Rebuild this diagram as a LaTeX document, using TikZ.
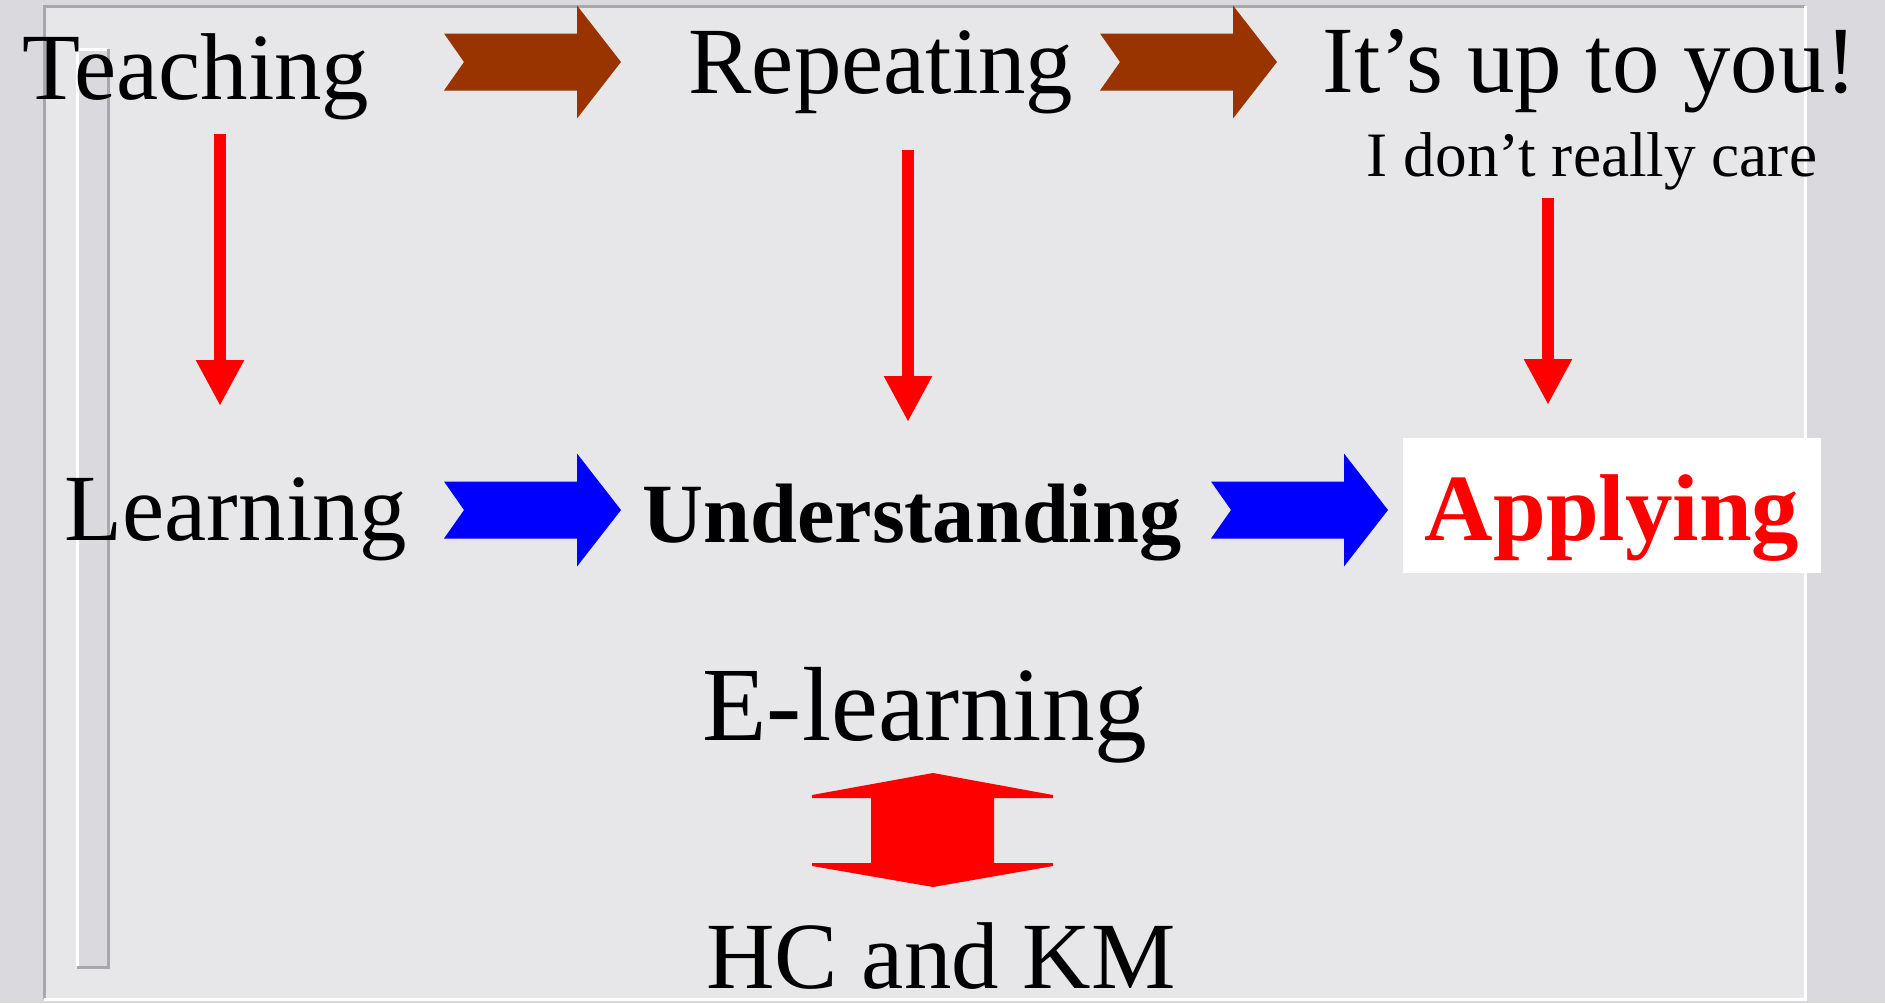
\documentclass[tikz,border=0pt]{standalone}
\usepackage{fontspec}
\setmainfont{Liberation Serif}
\usetikzlibrary{arrows.meta,positioning,calc}
\definecolor{marblegray}{HTML}{DADADE}
\definecolor{panelgray}{HTML}{E7E7E9}
\definecolor{edgegray}{HTML}{A8A8AC}
\definecolor{slidebrown}{HTML}{993300}
\definecolor{slideblue}{HTML}{0000FF}
\definecolor{slidered}{HTML}{FF0000}
\tikzset{
  pics/notcharrow/.style={code={
    \path[pic actions] (0,-28.5) -- (133,-28.5) -- (133,-56.5) -- (177,0)
      -- (133,56.5) -- (133,28.5) -- (0,28.5) -- (20,0) -- cycle;
  }}
}

\begin{document}
\begin{tikzpicture}[x=0.1mm,y=-0.1mm,
    word/.style={anchor=base,inner sep=0pt,font=\fontsize{27}{32}\selectfont},
    downarrow/.style={slidered,line width=1.2mm,-{Triangle[length=4.6mm,width=4.5mm]}}]
    \useasboundingbox (0,0) rectangle (1885,1003);
    \fill[marblegray] (0,0) rectangle (1885,1003);
    \fill[panelgray] (44,6) rectangle (1805,999);
    \draw[edgegray,line width=0.3mm] (44,999) -- (44,6) -- (1805,6);
    \draw[white,line width=0.3mm] (44,999) -- (1805,999) -- (1805,6);
    \fill[marblegray] (77,49) rectangle (108,967);
    \draw[white,line width=0.3mm] (77,967) -- (77,49) -- (108,49);
    \draw[edgegray,line width=0.3mm] (108,49) -- (108,967) -- (77,967);

    \node[word] (teaching) at (196,99) {Teaching};
    \node[word] (repeating) at (881,93) {Repeating};
    \node[word] (uptoyou) at (1590,92) {It’s up to you!};
    \node[word,font=\fontsize{18}{22}\selectfont] (notcare) at (1592,176) {I don’t really care};
    \node[word] (learning) at (236,540) {Learning};
    \node[word,font=\fontsize{24}{29}\selectfont\bfseries] (understanding) at (912,542) {Understanding};
    \node[word,fill=white,text=slidered,font=\fontsize{27}{32}\selectfont\bfseries,
      text height=10.2mm,text depth=3.3mm,minimum width=41.8mm] (applying) at (1612,540) {Applying};
    \node[word,font=\fontsize{30}{36}\selectfont] (elearning) at (925,740) {E-learning};
    \node[word] (hckm) at (941,988) {HC and KM};

    \pic[fill=slidebrown] (brownA) at (444,62) {notcharrow};
    \pic[fill=slidebrown] (brownB) at (1100,62) {notcharrow};
    \pic[fill=slideblue] (blueA) at (444,510) {notcharrow};
    \pic[fill=slideblue] (blueB) at (1211,510) {notcharrow};

    \coordinate (teachdown) at (220,134);
    \coordinate (learnup) at (220,406);
    \coordinate (repeatdown) at (908,150);
    \coordinate (understandup) at (908,422);
    \coordinate (caredown) at (1548,198);
    \coordinate (applyup) at (1548,405);
    \draw[downarrow] (teachdown) -- (learnup);
    \draw[downarrow] (repeatdown) -- (understandup);
    \draw[downarrow] (caredown) -- (applyup);

    \fill[slidered] (933,773) -- (1053,795) -- (1053,798) -- (994,798) -- (994,863)
      -- (1053,863) -- (1053,866) -- (933,887) -- (812,866) -- (812,863)
      -- (871,863) -- (871,798) -- (812,798) -- (812,795) -- cycle;
\end{tikzpicture}
\end{document}
